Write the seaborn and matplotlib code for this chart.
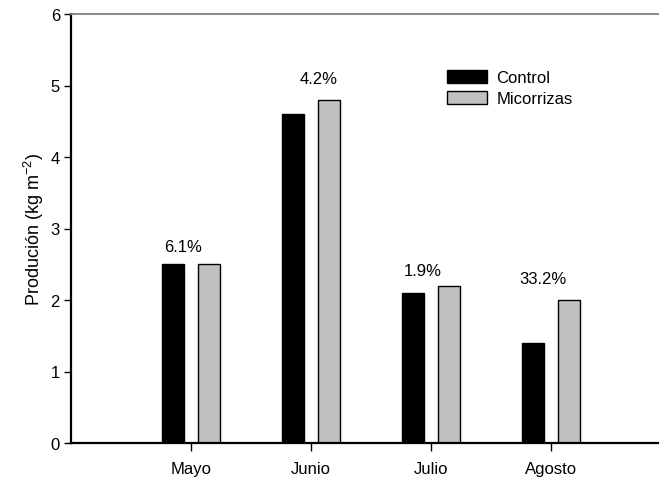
import matplotlib
matplotlib.use("Agg")
import matplotlib.pyplot as plt
import seaborn as sns
import pandas as pd

# Monthly production per treatment
months = ["Mayo", "Junio", "Julio", "Agosto"]
control = [2.5, 4.6, 2.1, 1.4]
micorrizas = [2.5, 4.8, 2.2, 2.0]
pct_labels = ["6.1%", "4.2%", "1.9%", "33.2%"]
treatments = ["Control", "Micorrizas"]

df = pd.DataFrame({
    "mes": months * 2,
    "tratamiento": [treatments[0]] * len(months) + [treatments[1]] * len(months),
    "produccion": control + micorrizas,
})

sns.set_theme(style="white")
plt.rcParams["font.family"] = ["Liberation Sans", "DejaVu Sans"]
plt.rcParams["mathtext.fontset"] = "custom"
plt.rcParams["mathtext.rm"] = "Liberation Sans"
plt.rcParams["text.color"] = "black"
plt.rcParams["axes.labelcolor"] = "black"
plt.rcParams["xtick.color"] = "black"
plt.rcParams["ytick.color"] = "black"

fig = plt.figure(figsize=(6.59, 4.81), dpi=100)
ax = fig.add_axes([71 / 659, 1 - 444 / 481, 600 / 659, 429 / 481])

sns.barplot(
    data=df, x="mes", y="produccion", hue="tratamiento",
    order=months, hue_order=treatments,
    palette={"Control": "#000000", "Micorrizas": "#c0c0c0"},
    width=0.6, gap=0.37, edgecolor="black", linewidth=1.0,
    errorbar=None, ax=ax,
)

ax.set_xlim(-1, 4)
ax.set_ylim(0, 6)
ax.set_yticks(range(0, 7))
ax.set_xlabel("")
ax.set_ylabel(r"Produción (kg m$^{\mathregular{-2}}$)", fontsize=13, labelpad=3)

for side in ["left", "bottom"]:
    ax.spines[side].set_color("black")
    ax.spines[side].set_linewidth(1.6)
ax.spines["top"].set_color("#808080")
ax.spines["top"].set_linewidth(1.3)
ax.spines["right"].set_visible(False)

ax.tick_params(axis="y", direction="out", length=5, width=1,
               labelsize=12, pad=3, left=True)
ax.tick_params(axis="x", direction="out", length=6, width=1,
               labelsize=12, pad=7, bottom=True)

# Percentage difference labels above each month's bars
label_offsets = [(-8, 18), (8, 21), (-8, 15), (-8, 22)]
for i, (txt, (dx, dy)) in enumerate(zip(pct_labels, label_offsets)):
    top = max(control[i], micorrizas[i])
    ax.annotate(txt, xy=(i, top), xytext=(dx * 0.72, dy * 0.72),
                textcoords="offset points", ha="center", va="center",
                fontsize=12)

leg = ax.legend(
    loc="upper left", bbox_to_anchor=(447 / 659, 1 - 71 / 481),
    bbox_transform=fig.transFigure, frameon=False, fontsize=12,
    handlelength=2.4, handleheight=0.8, handletextpad=0.55,
    labelspacing=0.35, borderpad=0, borderaxespad=0,
)
for h in leg.legend_handles:
    h.set_edgecolor("black")
    h.set_linewidth(1.0)

fig.savefig("out.png", dpi=100)
